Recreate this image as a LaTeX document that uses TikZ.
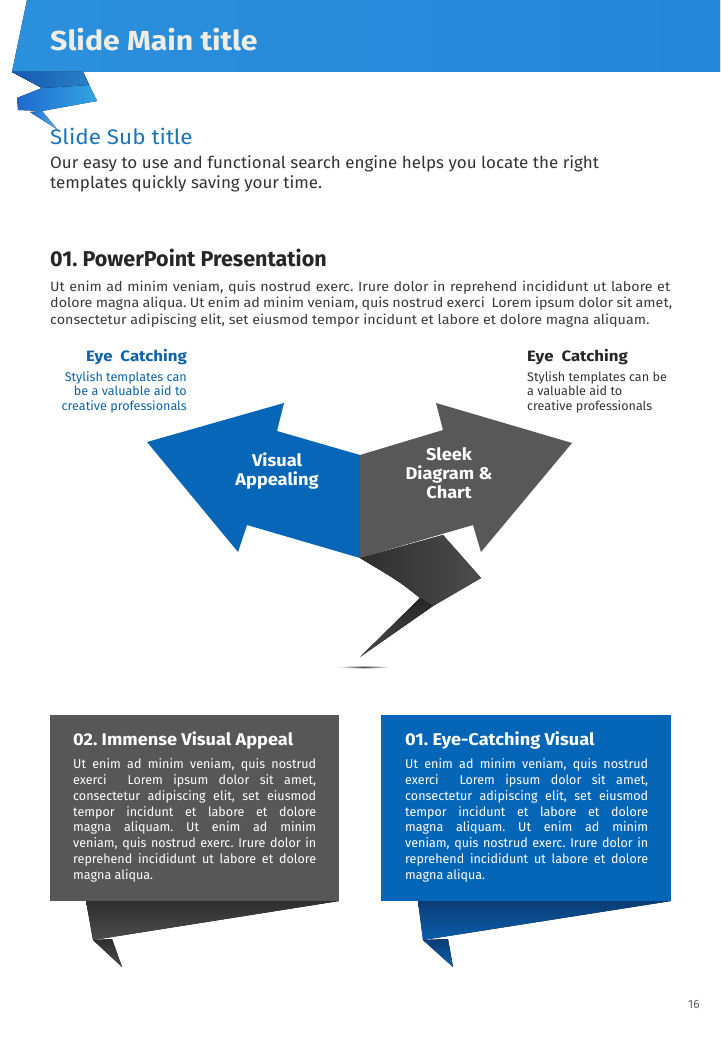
\documentclass[tikz,border=0pt]{standalone}
\usepackage{fontspec}
\setmainfont{Fira Sans}
\newfontfamily\bodyf[FakeStretch=1.06]{Fira Sans}
\newfontfamily\eyetf{Fira Sans}
\newfontfamily\boxf[FakeStretch=0.98]{Fira Sans}
\newfontfamily\subf[FakeStretch=1.03]{Fira Sans}
\newfontfamily\subtf[FakeStretch=1.07]{Fira Sans}
\newfontfamily\wideA[FakeStretch=1.1]{Fira Sans}
\newfontfamily\wideB[FakeStretch=1.07]{Fira Sans}
\newfontfamily\eyef[FakeStretch=1.12]{Fira Sans}
\definecolor{hdrA}{HTML}{2B90DC}
\definecolor{hdrB}{HTML}{2585D8}
\definecolor{ribA}{HTML}{1C66CE}
\definecolor{ribB}{HTML}{33A4E2}
\definecolor{arrblue}{HTML}{0866B8}
\definecolor{arrgray}{HTML}{585858}
\definecolor{folddark}{HTML}{2E2E2E}
\definecolor{foldmid}{HTML}{4C4C4C}
\definecolor{boxgray}{HTML}{575757}
\definecolor{boxblue}{HTML}{0566B8}
\definecolor{bluefoldA}{HTML}{0A3C74}
\definecolor{bluefoldB}{HTML}{0A5EAE}
\definecolor{subblue}{HTML}{1C74BA}
\definecolor{eyeblue}{HTML}{0D62AA}
\definecolor{txtdark}{HTML}{333333}
\definecolor{bodyc}{HTML}{3A3A3A}
\definecolor{titlec}{HTML}{F0EDE4}
\tikzset{
  lbl/.style={inner sep=0pt, anchor=base west},
  lble/.style={inner sep=0pt, anchor=base east},
  lblc/.style={inner sep=0pt, anchor=base},
  para/.style={lbl, text=bodyc, font=\bodyf\fontsize{13.5}{15}\selectfont},
  boxtxt/.style={lbl, text=white, font=\boxf\fontsize{12.8}{15}\selectfont},
  boxttl/.style={lbl, text=white, font=\wideB\bfseries\fontsize{17}{19}\selectfont},
  eyettl/.style={font=\eyef\bfseries\fontsize{15}{17}\selectfont},
  eyetxt/.style={font=\eyetf\fontsize{12.6}{15}\selectfont},
  arrtxt/.style={lblc, text=white, font=\wideB\bfseries\fontsize{17}{19}\selectfont},
}
\newcommand\jline[2]{\makebox[#1][s]{#2}}
\begin{document}
\frenchspacing
\begin{tikzpicture}[x=1pt,y=-1pt]
\useasboundingbox (0,0) rectangle (720,1040);
\fill[white] (0,0) rectangle (720,1040);
% header band
\fill[left color=hdrA, right color=hdrB] (27,0) -- (720,0) -- (720,72) -- (12,72) -- cycle;
% ribbon fold
\fill[left color=ribA, right color=ribB] (12,72) -- (83,72) -- (97,101) -- (42,111) -- (18,110) -- (17,98) -- (42,88) -- cycle;
\fill[left color=ribA!85!black, right color=hdrA!90!black] (12,72) -- (83,72) -- (89,85) -- (42,88) -- cycle;
\fill[left color=ribA, right color=ribB!80!white] (30,112) -- (42,111) -- (58,130) -- cycle;
\node[lbl, text=titlec, font=\wideA\bfseries\fontsize{27.5}{30}\selectfont] (title) at (50,51) {Slide Main title};
% subtitle
\node[lbl, text=subblue, font=\subtf\fontsize{21}{24}\selectfont] (sub) at (50,145) {Slide Sub title};
\node[lbl, text=txtdark, font=\subf\fontsize{16.5}{19}\selectfont] (s1) at (50,168.5) {Our easy to use and functional search engine helps you locate the right};
\node[lbl, text=txtdark, font=\subf\fontsize{16.5}{19}\selectfont] (s2) at (50,188.5) {templates quickly saving your time.};
% section
\node[lbl, text=black!85, font=\bfseries\fontsize{21.5}{24}\selectfont] (sec) at (50,266.5) {01. PowerPoint Presentation};
\node[para] (p1) at (50,291) {\jline{620pt}{Ut enim ad minim veniam, quis nostrud exerc. Irure dolor in reprehend incididunt ut labore et}};
\node[para] (p2) at (50,307.5) {\jline{622pt}{dolore magna aliqua. Ut enim ad minim veniam, quis nostrud exerci\ \ Lorem ipsum dolor sit amet,}};
\node[para] (p3) at (50,324) {consectetur adipiscing elit, set eiusmod tempor incidunt et labore et dolore magna aliquam.};
% eye catching left
\node[lble, eyettl, text=eyeblue] (el0) at (187,361) {Eye\ \ Catching};
\node[lble, eyetxt, text=eyeblue] (el1) at (187,381) {Stylish templates can};
\node[lble, eyetxt, text=eyeblue] (el2) at (187,395.5) {be a valuable aid to};
\node[lble, eyetxt, text=eyeblue] (el3) at (187,410) {creative professionals};
% eye catching right
\node[lbl, eyettl, text=black!85] (er0) at (527,361) {Eye\ \ Catching};
\node[lbl, eyetxt, text=txtdark] (er1) at (527,381) {Stylish templates can be};
\node[lbl, eyetxt, text=txtdark] (er2) at (527,395.5) {a valuable aid to};
\node[lbl, eyetxt, text=txtdark] (er3) at (527,410) {creative professionals};
% arrows
\fill[arrblue] (360,455) -- (277,431) -- (284,403) -- (147,442) -- (238,552) -- (247,525) -- (360,558) -- cycle;
\fill[arrgray] (360,455) -- (443,430) -- (436,403) -- (572,443) -- (481,552) -- (473,525) -- (360,558) -- cycle;
\fill[left color=folddark, right color=foldmid] (360,558) -- (443,535) -- (481,578) -- (433,606) -- (420,598) .. controls (400,582) .. (360,558) -- cycle;
\fill[top color=folddark!80!black, bottom color=foldmid] (420,598) -- (433,606) -- (360,657) -- cycle;
\shade[inner color=black!75, outer color=white] (364,667) ellipse (26 and 1.6);
\node[arrtxt] (va1) at (277,466.5) {Visual};
\node[arrtxt] (va2) at (277,485.5) {Appealing};
\node[arrtxt] (sd1) at (449,460.5) {Sleek};
\node[arrtxt] (sd2) at (449,479.5) {Diagram \&};
\node[arrtxt] (sd3) at (449,498.5) {Chart};
% gray box
\fill[top color=folddark, bottom color=foldmid] (86,901) -- (339,901) -- (93,940) -- cycle;
\fill[top color=folddark, bottom color=foldmid] (93,940) -- (112,939) -- (122,967) -- cycle;
\fill[boxgray] (50,715) rectangle (339,901);
\node[boxttl] (g0) at (73,745) {02. Immense Visual Appeal};
\node[boxtxt] (g1) at (73,768.3) {\jline{243pt}{Ut enim ad minim veniam, quis nostrud}};
\node[boxtxt] (g2) at (73,784.2) {\jline{243pt}{exerci\ \ Lorem ipsum dolor sit amet,}};
\node[boxtxt] (g3) at (73,800.1) {\jline{243pt}{consectetur adipiscing elit, set eiusmod}};
\node[boxtxt] (g4) at (73,816) {\jline{243pt}{tempor incidunt et labore et dolore}};
\node[boxtxt] (g5) at (73,831.9) {\jline{243pt}{magna aliquam. Ut enim ad minim}};
\node[boxtxt] (g6) at (73,847.8) {\jline{243pt}{veniam, quis nostrud exerc. Irure dolor in}};
\node[boxtxt] (g7) at (73,863.7) {\jline{243pt}{reprehend incididunt ut labore et dolore}};
\node[boxtxt] (g8) at (73,879.6) {magna aliqua.};
% blue box
\fill[top color=bluefoldA, bottom color=bluefoldB] (418,901) -- (671,901) -- (423,940) -- cycle;
\fill[top color=bluefoldA, bottom color=bluefoldB] (423,940) -- (448,939) -- (453,967) -- cycle;
\fill[boxblue] (381,715) rectangle (671,901);
\node[boxttl] (b0) at (405,745) {01. Eye-Catching Visual};
\node[boxtxt] (b1) at (405,768.3) {\jline{243pt}{Ut enim ad minim veniam, quis nostrud}};
\node[boxtxt] (b2) at (405,784.2) {\jline{243pt}{exerci\ \ Lorem ipsum dolor sit amet,}};
\node[boxtxt] (b3) at (405,800.1) {\jline{243pt}{consectetur adipiscing elit, set eiusmod}};
\node[boxtxt] (b4) at (405,816) {\jline{243pt}{tempor incidunt et labore et dolore}};
\node[boxtxt] (b5) at (405,831.9) {\jline{243pt}{magna aliquam. Ut enim ad minim}};
\node[boxtxt] (b6) at (405,847.8) {\jline{243pt}{veniam, quis nostrud exerc. Irure dolor in}};
\node[boxtxt] (b7) at (405,863.7) {\jline{243pt}{reprehend incididunt ut labore et dolore}};
\node[boxtxt] (b8) at (405,879.6) {magna aliqua.};
% page number
\node[lble, text=black!60, font=\fontsize{12}{14}\selectfont] (pg) at (700,1008) {16};
\end{tikzpicture}
\end{document}
